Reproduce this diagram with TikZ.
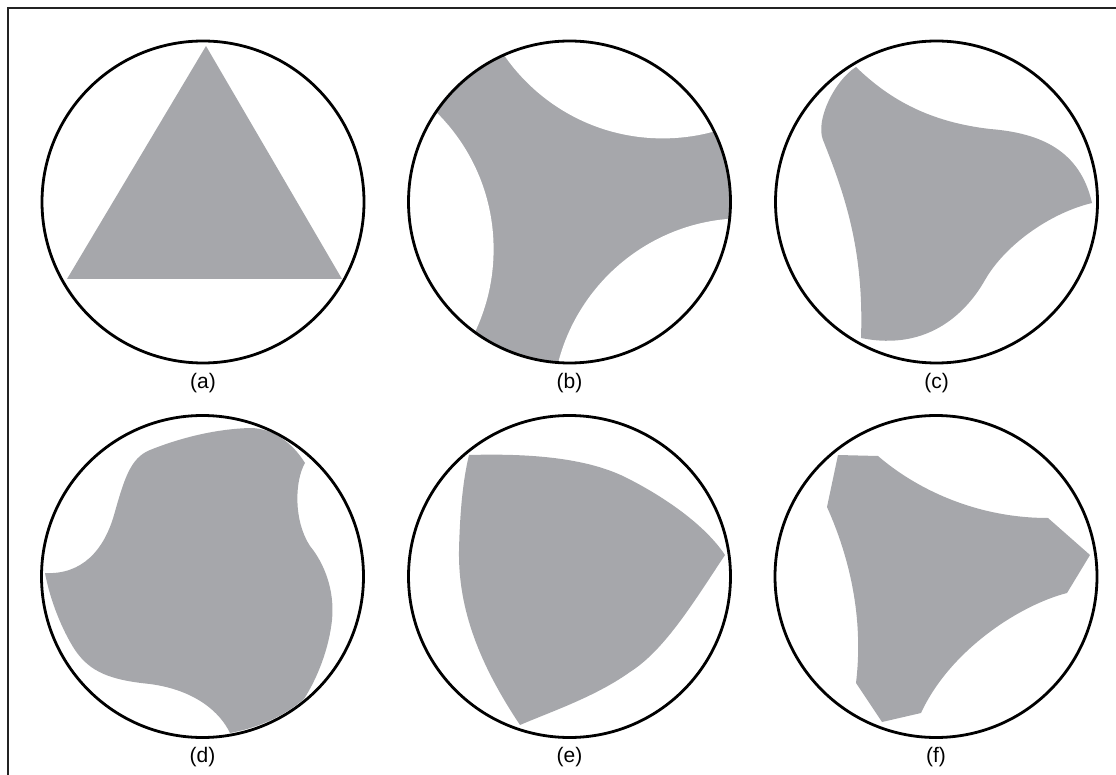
\documentclass[tikz,border=0pt]{standalone}
\usepackage{fontspec}
\setmainfont{Liberation Sans}
\definecolor{shapegray}{RGB}{166,167,171}
\definecolor{framegray}{RGB}{35,35,35}
\begin{document}
\begin{tikzpicture}[x=1pt,y=-1pt,
  shapefill/.style={fill=shapegray},
  rim/.style={draw=black,line width=2.8pt},
  lab/.style={font=\fontsize{21}{24}\selectfont,inner sep=0pt}]
\useasboundingbox (0,0) rectangle (1116,775);
\draw[line width=2pt,draw=framegray] (7.5,775) -- (7.5,8.5) -- (1116,8.5);

% (a)
\fill[shapefill] (206,46) -- (67,279) -- (342,279) -- cycle;
\draw[rim] (203,202) circle[radius=161pt];
\node[lab] (la) at (203,383) {(a)};

% (b)
\begin{scope}
  \clip (569.5,202) circle[radius=161pt];
  \fill[shapefill] (569.5,202) circle[radius=161pt];
  \fill[white] (662.7,-54.2) circle[radius=192.6pt]
               (301,249.3) circle[radius=192.6pt]
               (744.7,410.8) circle[radius=192.6pt];
\end{scope}
\draw[rim] (569.5,202) circle[radius=161pt];
\node[lab] (lb) at (569.5,383) {(b)};

% (c)
\fill[shapefill] (856,67)
  .. controls (890,100) and (930,122) .. (990,129)
  .. controls (1040,133) and (1080,150) .. (1092,203)
  .. controls (1050,213) and (1005,245) .. (985,280)
  .. controls (968,310) and (930,352) .. (861,338)
  .. controls (864,250) and (845,195) .. (823,140)
  .. controls (815,120) and (835,80) .. (856,67)
  -- cycle;
\draw[rim] (936.5,202) circle[radius=161pt];
\node[lab] (lc) at (936.5,383) {(c)};

% (d)
\fill[shapefill] (45,573)
  .. controls (82,575) and (104,550) .. (114,515)
  .. controls (124,480) and (130,458) .. (150,450)
  .. controls (180,438) and (215,429) .. (250,428)
  .. controls (272,428) and (292,442) .. (305,463)
  .. controls (295,480) and (293,520) .. (310,546)
  .. controls (324,563) and (335,590) .. (332,620)
  .. controls (329,648) and (318,677) .. (304,699)
  .. controls (283,717) and (257,728) .. (230,733)
  .. controls (220,712) and (195,690) .. (150,684)
  .. controls (110,680) and (90,672) .. (75,650)
  .. controls (62,630) and (50,600) .. (45,573)
  -- cycle;
\draw[rim] (202.5,576.5) circle[radius=161pt];
\node[lab] (ld) at (202.5,757) {(d)};

% (e)
\fill[shapefill] (469,455)
  .. controls (540,453) and (590,460) .. (625,477)
  .. controls (665,497) and (705,525) .. (725,555)
  .. controls (695,600) and (665,650) .. (630,672)
  .. controls (595,697) and (550,712) .. (520,725)
  .. controls (480,665) and (458,610) .. (459,550)
  .. controls (460,510) and (463,480) .. (469,455)
  -- cycle;
\draw[rim] (569.5,576.5) circle[radius=161pt];
\node[lab] (le) at (569.5,757) {(e)};

% (f)
\fill[shapefill] (838,455) -- (878,456)
  .. controls (915,488) and (975,518) .. (1048,518)
  -- (1090,555) -- (1067,593)
  .. controls (1020,605) and (950,650) .. (921,713)
  -- (882,722) -- (856,683)
  .. controls (863,625) and (853,565) .. (827,507)
  -- cycle;
\draw[rim] (936,576.5) circle[radius=161pt];
\node[lab] (lf) at (936,757) {(f)};
\end{tikzpicture}
\end{document}
